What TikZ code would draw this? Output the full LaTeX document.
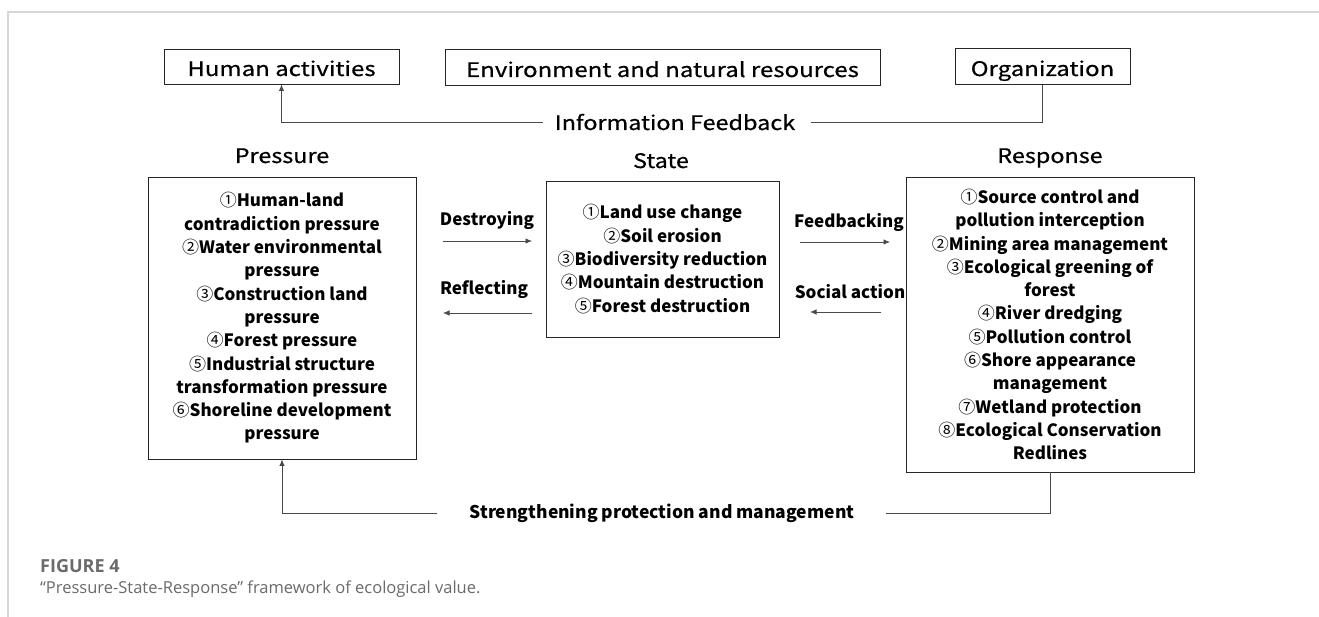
\documentclass[tikz,border=0pt]{standalone}
\usepackage{fontspec}
\usetikzlibrary{arrows.meta}
\newfontfamily\cjk{Noto Sans CJK SC}
\newfontfamily\cjkw{Noto Sans CJK SC}[FakeStretch=1.2,FakeBold=0.6]
\newfontfamily\cjkt{Noto Sans CJK SC}[FakeStretch=1.17,FakeBold=0.6]
\newfontfamily\capfont{Open Sans}
\newcommand\circd[1]{{\mdseries#1}}
\definecolor{lnc}{HTML}{4A4A4A}
\definecolor{frc}{HTML}{D6D6D6}
\definecolor{capc}{HTML}{6A6A6A}
\begin{document}
\begin{tikzpicture}[x=1pt,y=-1pt,
  topbox/.style={draw=black!85,line width=0.9pt,inner sep=0pt,text height=19pt,text depth=0pt,font=\cjkw\fontsize{20}{22}\selectfont},
  title/.style={font=\cjkt\fontsize{20}{22}\selectfont,inner sep=0pt,anchor=base},
  mainbox/.style={draw=black!85,line width=0.9pt,inner sep=0pt,align=center,font=\cjk\bfseries\fontsize{17}{23.3}\selectfont},
  lbl/.style={font=\cjk\bfseries\fontsize{17}{20}\selectfont,inner sep=0pt},
  conn/.style={draw=lnc,line width=0.8pt},
  arr/.style={conn,-{Latex[length=6.5pt,width=5.5pt]}}
]
\useasboundingbox (0,0) rectangle (1319,617);
\draw[frc,line width=1.2pt] (1319,12) -- (8,12) -- (8,617);
% top boxes
\node[topbox,minimum width=235pt,minimum height=35pt] (ha) at (281.5,66.5) {Human activities};
\node[topbox,minimum width=435pt,minimum height=36pt] (env) at (662.5,67.5) {Environment and natural resources};
\node[topbox,minimum width=175pt,minimum height=36pt] (org) at (1042.5,66.5) {Organization};
\node[inner sep=0pt,text height=15pt,text depth=0pt,font=\cjkt\fontsize{20}{22}\selectfont] (info) at (675,122.5) {Information Feedback};
% titles
\node[title] (tp) at (282,163) {Pressure};
\node[title] (ts) at (661,168) {State};
\node[title] (tr) at (1050,163) {Response};
% main boxes
\node[mainbox,minimum width=268pt,minimum height=282pt] (pres) at (282,318) {%
\circd{①}Human-land\\contradiction pressure\\\circd{②}Water environmental\\pressure\\\circd{③}Construction land\\pressure\\\circd{④}Forest pressure\\\circd{⑤}Industrial structure\\transformation pressure\\\circd{⑥}Shoreline development\\pressure};
\node[mainbox,minimum width=233pt,minimum height=156pt] (state) at (662.5,259) {%
\circd{①}Land use change\\\circd{②}Soil erosion\\\circd{③}Biodiversity reduction\\\circd{④}Mountain destruction\\\circd{⑤}Forest destruction};
\node[mainbox,minimum width=288pt,minimum height=295pt] (resp) at (1050,324.5) {%
\circd{①}Source control and\\pollution interception\\\circd{②}Mining area management\\\circd{③}Ecological greening of\\forest\\\circd{④}River dredging\\\circd{⑤}Pollution control\\\circd{⑥}Shore appearance\\management\\\circd{⑦}Wetland protection\\\circd{⑧}Ecological Conservation\\Redlines};
% side labels
\node[lbl] (ldes) at (487,220) {Destroying};
\node[lbl] (lref) at (484,289) {Reflecting};
\node[lbl] (lfee) at (849,222) {Feedbacking};
\node[lbl] (lsoc) at (850,292) {Social action};
\coordinate (d1) at (443,241); \coordinate (d2) at (532,241);
\coordinate (r1) at (532,313); \coordinate (r2) at (443,313);
\coordinate (f1) at (800,242); \coordinate (f2) at (890,242);
\coordinate (s1) at (881,312); \coordinate (s2) at (810,312);
\draw[arr] (d1) -- (d2);
\draw[arr] (r1) -- (r2);
\draw[arr] (f1) -- (f2);
\draw[arr] (s1) -- (s2);
% information feedback
\draw[arr] ([xshift=-12pt]info.west) -| (ha.south);
\draw[conn] ([xshift=16pt]info.east) -| (org.south);
% bottom feedback
\node[lbl,font=\cjk\bfseries\fontsize{17.5}{20}\selectfont] (str) at (662,513) {Strengthening protection and management};
\draw[arr] ([xshift=-32pt]str.west) -| (pres.south);
\draw[conn] ([xshift=31pt]str.east) -| (resp.south);
% caption
\node[anchor=west,inner sep=0pt,text=capc,font=\capfont\bfseries\fontsize{18}{20}\selectfont] (fig) at (40,566) {FIGURE 4};
\node[anchor=west,inner sep=0pt,text=capc,font=\capfont\fontsize{16.5}{20}\selectfont] (cap) at (40,589) {“Pressure-State-Response” framework of ecological value.};
\end{tikzpicture}
\end{document}
